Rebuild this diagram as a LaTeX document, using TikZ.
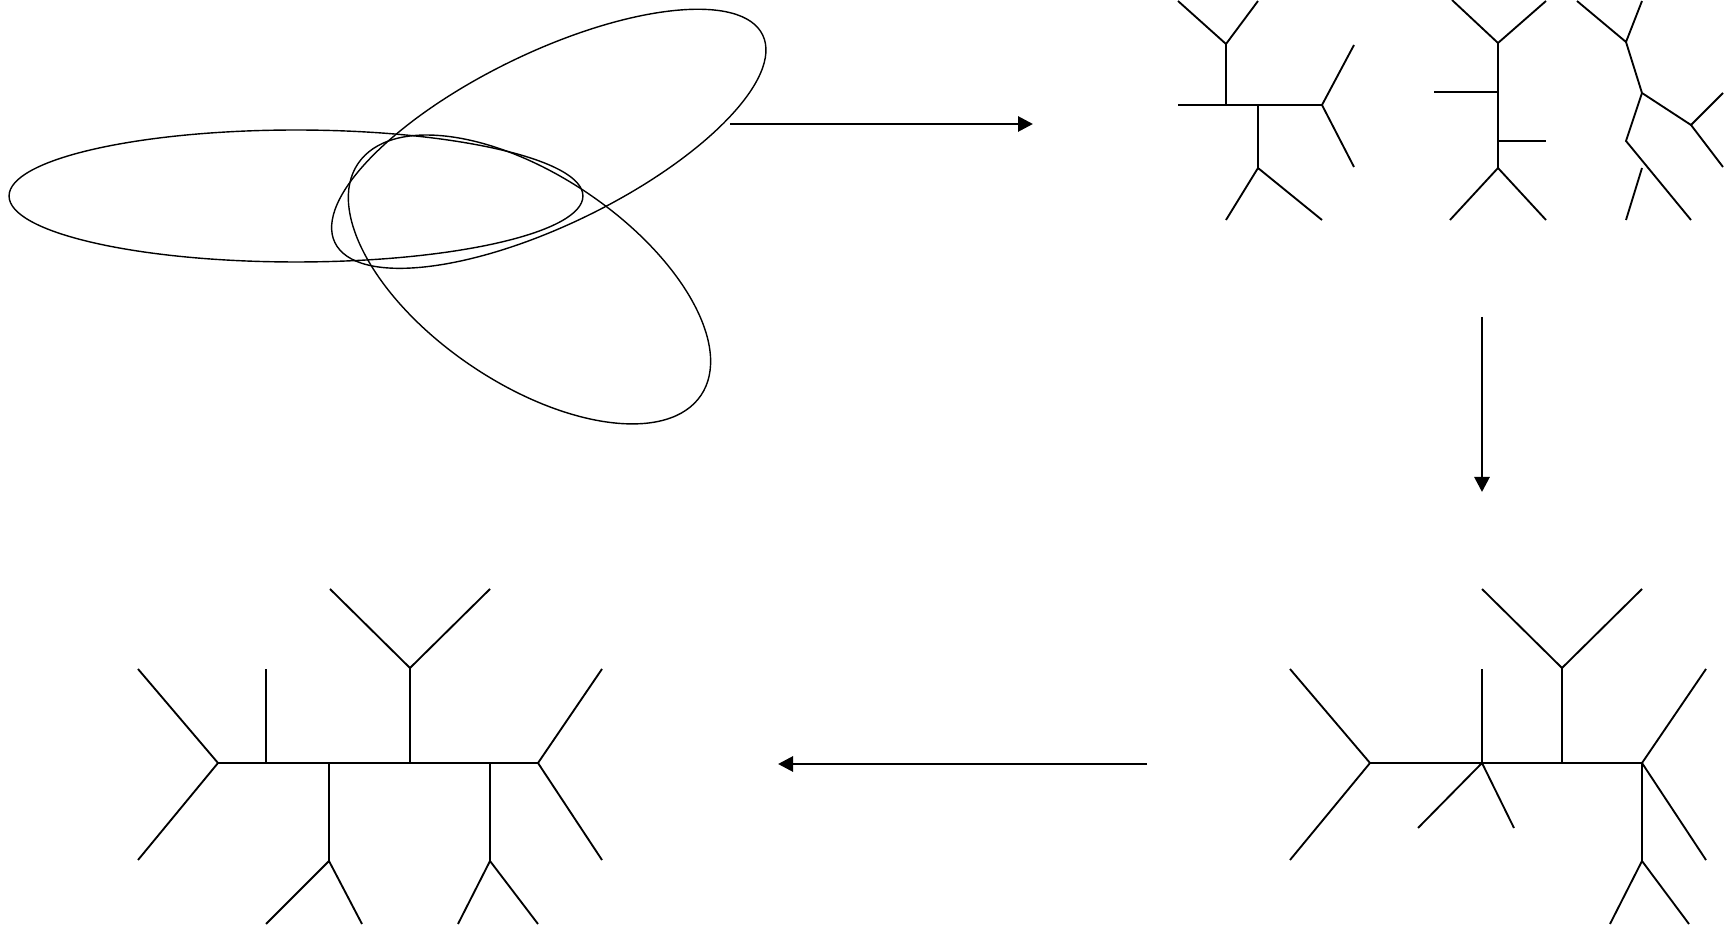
\documentclass[tikz,border=0pt]{standalone}
\usetikzlibrary{arrows.meta}
\begin{document}
\begin{tikzpicture}[x=0.02cm,y=-0.02cm,
  thin line/.style={line width=1.05pt,line cap=butt},
  thick line/.style={line width=1.6pt,line cap=butt},
  ring/.style={line width=0.8pt},
  flow/.style={line width=1.6pt,-{Triangle[length=0.3cm,width=0.3cm]}}]
\useasboundingbox (0,0) rectangle (1729,928);
% ellipses
\coordinate (e1c) at (296,196);
\coordinate (e2c) at (548.8,138.8);
\coordinate (e3c) at (529.5,279.5);
\draw[ring] (e1c) ellipse [x radius=5.74cm, y radius=1.32cm];
\draw[ring, rotate around={25.9:(e2c)}] (e2c) ellipse [x radius=4.756cm, y radius=1.722cm];
\draw[ring, rotate around={-34.05:(e3c)}] (e3c) ellipse [x radius=4.14cm, y radius=2.082cm];
% arrows
\coordinate (t1) at (730,124); \coordinate (t2) at (1033,124);
\coordinate (v1) at (1482,317); \coordinate (v2) at (1482,492);
\coordinate (h1) at (1147,764); \coordinate (h2) at (778,764);
\draw[flow] (t1) -- (t2);
\draw[flow] (v1) -- (v2);
\draw[flow] (h1) -- (h2);
% tree A
\coordinate (aL1) at (1178,1); \coordinate (aF1) at (1226,44); \coordinate (aR1) at (1258,1);
\coordinate (aH0) at (1178,105); \coordinate (aJ1) at (1226,105); \coordinate (aJ2) at (1258,105); \coordinate (aF2) at (1322,105);
\coordinate (aU2) at (1354,45); \coordinate (aD2) at (1354,167);
\coordinate (aF3) at (1258,168); \coordinate (aB1) at (1226,220); \coordinate (aB2) at (1322,220);
\draw[thin line] (aL1) -- (aF1) -- (aR1);
\draw[thin line] (aF1) -- (aJ1);
\draw[thin line] (aH0) -- (aF2);
\draw[thin line] (aU2) -- (aF2) -- (aD2);
\draw[thin line] (aJ2) -- (aF3);
\draw[thin line] (aB1) -- (aF3) -- (aB2);
% tree B
\coordinate (bF1) at (1498,43); \coordinate (bL1) at (1452,0); \coordinate (bR1) at (1546,1);
\coordinate (bF2) at (1498,168); \coordinate (bH1) at (1434,92); \coordinate (bJ1) at (1498,92);
\coordinate (bJ2) at (1498,141); \coordinate (bH2) at (1546,141);
\coordinate (bB1) at (1450,220); \coordinate (bB2) at (1546,220);
\draw[thick line] (bF1) -- (bF2);
\draw[thick line] (bH1) -- (bJ1);
\draw[thin line] (bL1) -- (bF1) -- (bR1);
\draw[thin line] (bJ2) -- (bH2);
\draw[thin line] (bB1) -- (bF2) -- (bB2);
% tree C
\coordinate (cL1) at (1577,1); \coordinate (cF1) at (1626,42); \coordinate (cR1) at (1642,1);
\coordinate (cF2) at (1642,93); \coordinate (cF3) at (1691,125); \coordinate (cU3) at (1723,93);
\coordinate (cD3) at (1723,167); \coordinate (cF4) at (1626,141); \coordinate (cB1) at (1691,220);
\coordinate (cS1) at (1642,168); \coordinate (cS2) at (1626,220);
\draw[thin line] (cL1) -- (cF1) -- (cR1);
\draw[thin line] (cF1) -- (cF2) -- (cF3);
\draw[thin line] (cU3) -- (cF3) -- (cD3);
\draw[thin line] (cF2) -- (cF4) -- (cB1);
\draw[thin line] (cS1) -- (cS2);
% tree D (bottom right)
\coordinate (dF1) at (1370,763); \coordinate (dUL) at (1290,669); \coordinate (dDL) at (1290,860);
\coordinate (dJ1) at (1482,763); \coordinate (dV1) at (1482,669); \coordinate (dX1) at (1418,828); \coordinate (dX2) at (1514,828);
\coordinate (dJ2) at (1562,763); \coordinate (dF2) at (1562,668); \coordinate (dY1) at (1482,589); \coordinate (dY2) at (1642,589);
\coordinate (dF3) at (1642,763); \coordinate (dUR) at (1706,669); \coordinate (dDR) at (1706,860);
\coordinate (dF4) at (1642,861); \coordinate (dZ1) at (1610,924); \coordinate (dZ2) at (1689,924);
\draw[thick line] (dF1) -- (dF3);
\draw[thick line] (dJ1) -- (dV1);
\draw[thick line] (dJ2) -- (dF2);
\draw[thick line] (dF3) -- (dF4);
\draw[thin line] (dUL) -- (dF1) -- (dDL);
\draw[thin line] (dX1) -- (dJ1) -- (dX2);
\draw[thin line] (dY1) -- (dF2) -- (dY2);
\draw[thin line] (dUR) -- (dF3) -- (dDR);
\draw[thin line] (dZ1) -- (dF4) -- (dZ2);
% tree E (bottom left)
\coordinate (eF1) at (218,763); \coordinate (eUL) at (138,669); \coordinate (eDL) at (138,860);
\coordinate (eJ1) at (266,763); \coordinate (eV1) at (266,669);
\coordinate (eJ2) at (329,763); \coordinate (eF2) at (329,861); \coordinate (eX1) at (266,924); \coordinate (eX2) at (362,924);
\coordinate (eJ3) at (410,763); \coordinate (eF3) at (410,668); \coordinate (eY1) at (330,589); \coordinate (eY2) at (490,589);
\coordinate (eJ4) at (490,763); \coordinate (eF4) at (490,861); \coordinate (eZ1) at (458,924); \coordinate (eZ2) at (538,924);
\coordinate (eF5) at (538,763); \coordinate (eUR) at (602,669); \coordinate (eDR) at (602,860);
\draw[thick line] (eF1) -- (eF5);
\draw[thin line] (eJ1) -- (eV1);
\draw[thick line] (eJ2) -- (eF2);
\draw[thin line] (eJ3) -- (eF3);
\draw[thick line] (eJ4) -- (eF4);
\draw[thin line] (eUL) -- (eF1) -- (eDL);
\draw[thin line] (eX1) -- (eF2) -- (eX2);
\draw[thin line] (eY1) -- (eF3) -- (eY2);
\draw[thin line] (eZ1) -- (eF4) -- (eZ2);
\draw[thin line] (eUR) -- (eF5) -- (eDR);
\end{tikzpicture}
\end{document}
